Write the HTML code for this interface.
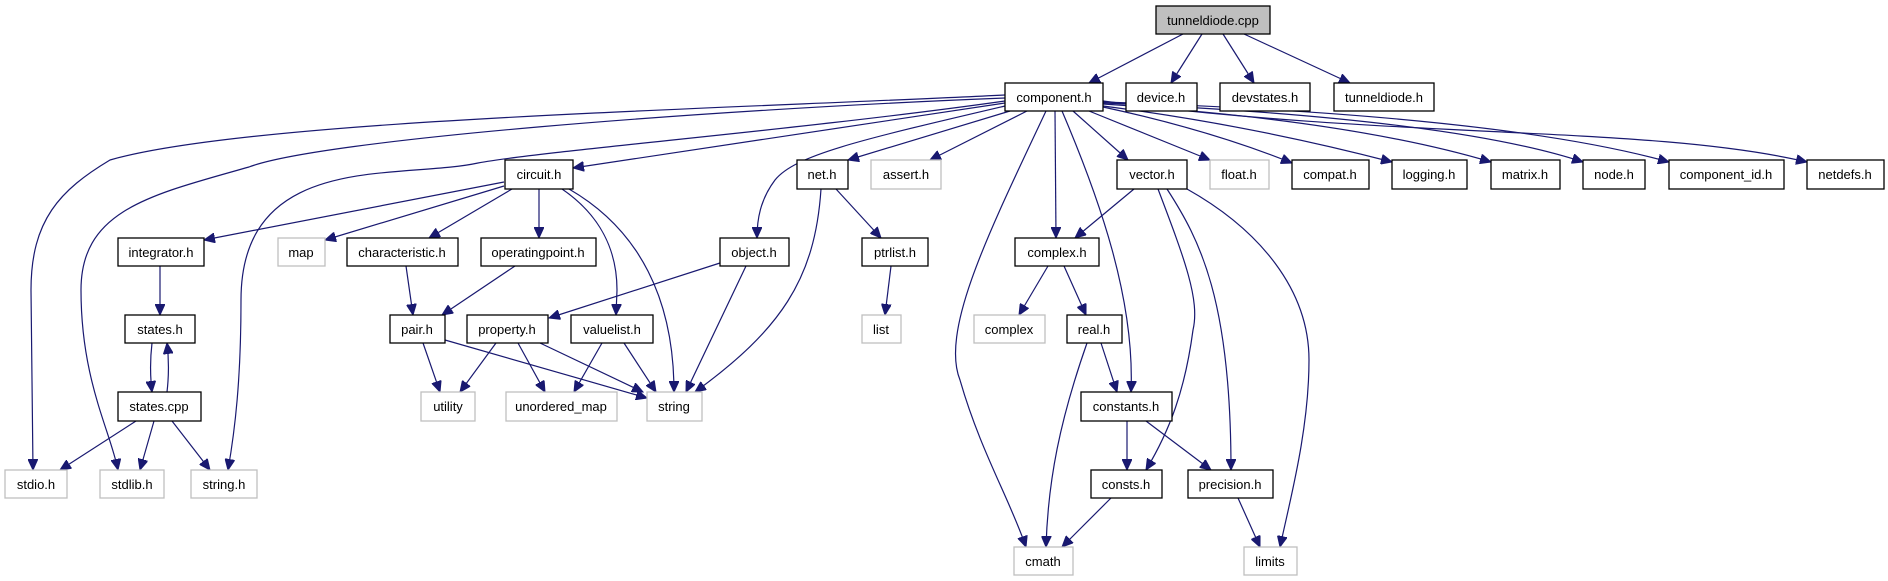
<!DOCTYPE html>
<html><head><meta charset="utf-8"><style>
html,body{margin:0;padding:0;background:#fff;}
svg{display:block;}
text{font-family:"Liberation Sans",sans-serif;font-size:13px;text-anchor:middle;fill:#000;}
.n rect{fill:#fff;stroke:#000;stroke-width:1.3;}
.g rect{fill:#fff;stroke:#bfbfbf;stroke-width:1.3;}
path{fill:none;stroke:#191970;stroke-width:1.2;}
</style></head><body>
<svg width="1888" height="581" viewBox="0 0 1888 581" xmlns="http://www.w3.org/2000/svg">
<defs><marker id="a" markerUnits="userSpaceOnUse" markerWidth="12" markerHeight="10" refX="11" refY="5" orient="auto"><path d="M0,0L11,5L0,10z" style="fill:#191970;stroke:#191970;stroke-width:1"/></marker></defs>
<g marker-end="url(#a)">
<path d="M1183,34L1089,83"/>
<path d="M1202,34L1171,83"/>
<path d="M1223,34L1254,83"/>
<path d="M1244,34L1350,83"/>
<path d="M1005,95C700,110 250,120 110,160C60,190 31,220 31,290L33,470"/>
<path d="M1005,98C700,110 320,140 249,167C150,195 81,210 81,290C81,380 110,430 118,470"/>
<path d="M1005,101C800,130 550,150 478,163C400,180 241,150 241,300C241,380 235,430 228,470"/>
<path d="M1005,103L573,168"/>
<path d="M1010,111L848,160"/>
<path d="M1027,111L930,160"/>
<path d="M1005,106C860,140 795,155 775,180C760,200 757,220 757,238"/>
<path d="M1046,111C990,230 940,330 960,380C980,450 1010,500 1026,547"/>
<path d="M1055,111L1056,238"/>
<path d="M1062,111C1100,200 1135,300 1131,392"/>
<path d="M1073,111L1128,160"/>
<path d="M1089,111L1210,160"/>
<path d="M1103,107Q1210,130 1292,163"/>
<path d="M1103,106Q1250,125 1392,162"/>
<path d="M1103,104Q1350,120 1491,162"/>
<path d="M1103,103Q1450,118 1583,162"/>
<path d="M1103,102Q1500,115 1669,162"/>
<path d="M1103,101C1400,140 1650,125 1807,162"/>
<path d="M1134,189L1075,238"/>
<path d="M1158,189C1185,260 1200,300 1193,330C1185,390 1170,430 1146,470"/>
<path d="M1167,189C1200,240 1231,300 1231,470"/>
<path d="M1187,189C1260,230 1309,290 1309,360C1309,430 1290,500 1280,547"/>
<path d="M1048,266L1019,315"/>
<path d="M1064,266L1086,315"/>
<path d="M1101,343L1117,392"/>
<path d="M1087,343C1060,420 1048,480 1046,547"/>
<path d="M1127,421L1127,470"/>
<path d="M1146,421L1211,470"/>
<path d="M1111,498L1062,547"/>
<path d="M1238,498L1260,547"/>
<path d="M504,182L204,240"/>
<path d="M504,186L325,240"/>
<path d="M512,189L429,238"/>
<path d="M539,189L539,238"/>
<path d="M562,189C600,215 617,250 617,290L616,315"/>
<path d="M569,189C640,230 674,300 674,392"/>
<path d="M160,266L160,315"/>
<path d="M152,343C150,360 150,375 152,392"/>
<path d="M167,392C169,375 169,360 167,343"/>
<path d="M136,421L60,470"/>
<path d="M154,421L140,470"/>
<path d="M172,421L210,470"/>
<path d="M406,266L413,315"/>
<path d="M515,266L442,315"/>
<path d="M720,263L549,318"/>
<path d="M746,266L686,392"/>
<path d="M821,189C815,280 780,330 695,392"/>
<path d="M836,189L881,238"/>
<path d="M891,266L885,315"/>
<path d="M423,343L440,392"/>
<path d="M445,340L647,398"/>
<path d="M496,343L460,392"/>
<path d="M518,343L545,392"/>
<path d="M540,343L643,392"/>
<path d="M602,343L574,392"/>
<path d="M624,343L656,392"/>
</g>
<g class="n"><rect x="1156" y="6" width="114" height="28" style="fill:#bfbfbf"/><text x="1213" y="25">tunneldiode.cpp</text></g>
<g class="n"><rect x="1005" y="83" width="98" height="28"/><text x="1054" y="102">component.h</text></g>
<g class="n"><rect x="1126" y="83" width="71" height="28"/><text x="1161" y="102">device.h</text></g>
<g class="n"><rect x="1220" y="83" width="90" height="28"/><text x="1265" y="102">devstates.h</text></g>
<g class="n"><rect x="1334" y="83" width="100" height="28"/><text x="1384" y="102">tunneldiode.h</text></g>
<g class="n"><rect x="505" y="160" width="68" height="29"/><text x="539" y="179">circuit.h</text></g>
<g class="n"><rect x="797" y="160" width="51" height="29"/><text x="822" y="179">net.h</text></g>
<g class="g"><rect x="871" y="160" width="70" height="29"/><text x="906" y="179">assert.h</text></g>
<g class="n"><rect x="1117" y="160" width="70" height="29"/><text x="1152" y="179">vector.h</text></g>
<g class="g"><rect x="1210" y="160" width="59" height="29"/><text x="1239" y="179">float.h</text></g>
<g class="n"><rect x="1292" y="160" width="77" height="29"/><text x="1330" y="179">compat.h</text></g>
<g class="n"><rect x="1392" y="160" width="75" height="29"/><text x="1429" y="179">logging.h</text></g>
<g class="n"><rect x="1491" y="160" width="69" height="29"/><text x="1525" y="179">matrix.h</text></g>
<g class="n"><rect x="1583" y="160" width="62" height="29"/><text x="1614" y="179">node.h</text></g>
<g class="n"><rect x="1669" y="160" width="115" height="29"/><text x="1726" y="179">component_id.h</text></g>
<g class="n"><rect x="1807" y="160" width="77" height="29"/><text x="1845" y="179">netdefs.h</text></g>
<g class="n"><rect x="118" y="238" width="86" height="28"/><text x="161" y="257">integrator.h</text></g>
<g class="g"><rect x="278" y="238" width="47" height="28"/><text x="301" y="257">map</text></g>
<g class="n"><rect x="347" y="238" width="111" height="28"/><text x="402" y="257">characteristic.h</text></g>
<g class="n"><rect x="481" y="238" width="115" height="28"/><text x="538" y="257">operatingpoint.h</text></g>
<g class="n"><rect x="720" y="238" width="69" height="28"/><text x="754" y="257">object.h</text></g>
<g class="n"><rect x="862" y="238" width="66" height="28"/><text x="895" y="257">ptrlist.h</text></g>
<g class="n"><rect x="1015" y="238" width="84" height="28"/><text x="1057" y="257">complex.h</text></g>
<g class="n"><rect x="125" y="315" width="70" height="28"/><text x="160" y="334">states.h</text></g>
<g class="n"><rect x="390" y="315" width="55" height="28"/><text x="417" y="334">pair.h</text></g>
<g class="n"><rect x="467" y="315" width="81" height="28"/><text x="507" y="334">property.h</text></g>
<g class="n"><rect x="571" y="315" width="82" height="28"/><text x="612" y="334">valuelist.h</text></g>
<g class="g"><rect x="862" y="315" width="39" height="28"/><text x="881" y="334">list</text></g>
<g class="g"><rect x="974" y="315" width="71" height="28"/><text x="1009" y="334">complex</text></g>
<g class="n"><rect x="1067" y="315" width="55" height="28"/><text x="1094" y="334">real.h</text></g>
<g class="n"><rect x="118" y="392" width="83" height="29"/><text x="159" y="411">states.cpp</text></g>
<g class="g"><rect x="421" y="392" width="54" height="29"/><text x="448" y="411">utility</text></g>
<g class="g"><rect x="506" y="392" width="111" height="29"/><text x="561" y="411">unordered_map</text></g>
<g class="g"><rect x="647" y="392" width="55" height="29"/><text x="674" y="411">string</text></g>
<g class="n"><rect x="1081" y="392" width="91" height="29"/><text x="1126" y="411">constants.h</text></g>
<g class="g"><rect x="5" y="470" width="62" height="28"/><text x="36" y="489">stdio.h</text></g>
<g class="g"><rect x="100" y="470" width="64" height="28"/><text x="132" y="489">stdlib.h</text></g>
<g class="g"><rect x="191" y="470" width="66" height="28"/><text x="224" y="489">string.h</text></g>
<g class="n"><rect x="1091" y="470" width="71" height="28"/><text x="1126" y="489">consts.h</text></g>
<g class="n"><rect x="1188" y="470" width="85" height="28"/><text x="1230" y="489">precision.h</text></g>
<g class="g"><rect x="1014" y="547" width="59" height="28"/><text x="1043" y="566">cmath</text></g>
<g class="g"><rect x="1244" y="547" width="53" height="28"/><text x="1270" y="566">limits</text></g>
</svg>
</body></html>
